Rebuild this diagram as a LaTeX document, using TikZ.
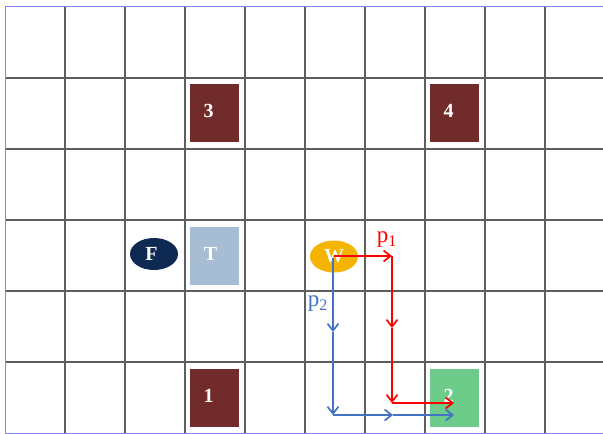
\documentclass[tikz,border=0pt]{standalone}
\usepackage{fontspec}
\setmainfont{Liberation Serif}
\usetikzlibrary{arrows.meta,shapes.geometric}
\definecolor{boxred}{HTML}{722B2B}
\definecolor{boxgreen}{HTML}{6DCC8A}
\definecolor{boxblue}{HTML}{A6BDD4}
\definecolor{navy}{HTML}{0F2A52}
\definecolor{wyellow}{HTML}{F4B400}
\definecolor{gridgray}{HTML}{5E5E5E}
\definecolor{framec}{HTML}{8080FF}
\definecolor{pblue}{HTML}{4472C4}
\begin{document}
\begin{tikzpicture}[x=1pt,y=-1pt,
  gridline/.style={draw=gridgray,line width=1.8pt},
  cellbox/.style={rectangle,minimum width=49pt,minimum height=58pt,inner sep=0pt},
  boxtext/.style={text=white,inner sep=0pt,font=\bfseries\fontsize{20}{20}\selectfont,xshift=-6pt,yshift=2pt},
  agent/.style={ellipse,minimum width=48pt,minimum height=32pt,inner sep=0pt,
    text=white,font=\bfseries\fontsize{20}{20}\selectfont},
  redarr/.style={draw=red,line width=1.7pt,-{Straight Barb[length=7pt,width=11pt]}},
  bluearr/.style={draw=pblue,line width=1.7pt,-{Straight Barb[length=7pt,width=11pt]}},
  plabel/.style={font=\fontsize{23}{23}\selectfont,inner sep=0pt}]
\useasboundingbox (0,0) rectangle (603,434);
\fill[white] (0,0) rectangle (603,434);
% grid
\foreach \x in {65,125,185,245,305,365,425,485,545}
  \draw[gridline] (\x,6) -- (\x,433);
\foreach \y in {78,149,220,291,362}
  \draw[gridline] (5,\y) -- (603,\y);
% frame
\draw[framec,line width=0.8pt] (603,6) -- (5,6) -- (5,433) -- (603,433);
% boxes
\node[cellbox,fill=boxred,label={[boxtext]center:3}] (n3) at (214.5,113) {};
\node[cellbox,fill=boxred,label={[boxtext]center:4}] (n4) at (454.5,113) {};
\node[cellbox,fill=boxblue,label={[boxtext,xshift=2pt]center:T}] (T) at (214.5,255.5) {};
\node[cellbox,fill=boxred,label={[boxtext]center:1}] (n1) at (214.5,398) {};
\node[cellbox,fill=boxgreen,label={[boxtext]center:2}] (n2) at (454.5,398) {};
\node[agent,fill=navy] (F) at (154,254) {\hspace*{-5pt}F};
\node[agent,fill=wyellow] (W) at (334,256.5) {W};
% path coordinates
\coordinate (r0) at (334,256);
\coordinate (r1) at (392,256);
\coordinate (r2) at (392,328);
\coordinate (r3) at (392,403);
\coordinate (r4) at (454,403);
\coordinate (b0) at (333,258);
\coordinate (b1) at (333,332);
\coordinate (b2) at (333,415);
\coordinate (b3) at (393,415);
\coordinate (b4) at (454,415);
% red path
\draw[redarr] (r0) -- (r1);
\draw[redarr] (r1) -- (r2);
\draw[redarr] (r2) -- (r3);
\draw[redarr] (r3) -- (r4);
% blue path
\draw[bluearr] (b0) -- (b1);
\draw[bluearr] (b1) -- (b2);
\draw[bluearr] (b2) -- (b3);
\draw[bluearr] (b3) -- (b4);
% labels
\node[plabel,text=red] (p1) at (387,240) {p\textsubscript{1}};
\node[plabel,text=pblue] (p2) at (318,304) {p\textsubscript{2}};
\end{tikzpicture}
\end{document}
